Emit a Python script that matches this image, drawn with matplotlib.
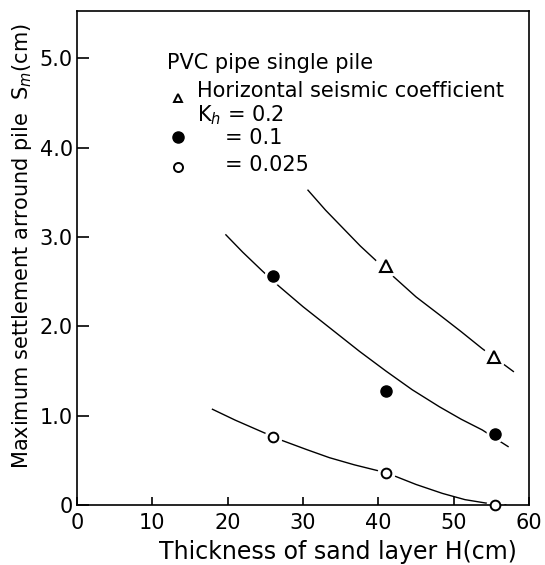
import matplotlib
matplotlib.use("Agg")
import matplotlib.pyplot as plt

plt.rcParams['font.family'] = ['DejaVu Sans']
plt.rcParams['mathtext.fontset'] = 'dejavusans'

# ---- data ----
H_pts = [26, 41, 55.5]
kh02_H = [41, 55.3]
kh02_S = [2.67, 1.66]
kh01_S = [2.56, 1.28, 0.80]
kh0025_S = [0.76, 0.36, 0.0]

curve02_H = [30.6, 33.0, 35.3, 37.6, 39.9, 42.1, 45.0, 48.1, 51.0, 53.8, 56.4, 58.0]
curve02_S = [3.53, 3.30, 3.10, 2.90, 2.72, 2.55, 2.33, 2.13, 1.94, 1.75, 1.59, 1.49]
curve01_H = [19.7, 22.0, 24.6, 26.8, 30.0, 33.9, 37.5, 41.0, 44.5, 48.1, 51.0, 53.8, 56.0, 57.3]
curve01_S = [3.03, 2.83, 2.62, 2.45, 2.22, 1.96, 1.72, 1.50, 1.29, 1.10, 0.96, 0.84, 0.72, 0.65]
curve0025_H = [17.9, 21.0, 24.8, 27.3, 30.5, 33.5, 36.8, 39.9, 42.0, 45.0, 48.5, 51.5, 54.4, 57.0]
curve0025_S = [1.075, 0.95, 0.81, 0.72, 0.62, 0.53, 0.45, 0.385, 0.33, 0.23, 0.13, 0.06, 0.02, 0.0]

x_ticks = [0, 10, 20, 30, 40, 50, 60]
y_ticks = [0, 1.0, 2.0, 3.0, 4.0, 5.0]
y_tick_labels = ['0', '1.0', '2.0', '3.0', '4.0', '5.0']

W, Hh = 545, 565
fig = plt.figure(figsize=(W / 100, Hh / 100), dpi=100)
L, R, B, T = 77, 529, 505, 11
ax = fig.add_axes([L / W, 1 - B / Hh, (R - L) / W, (B - T) / Hh])
ax.set_xlim(0, 60)
ax.set_ylim(0, 5.53)


def afrac(px, py):
    return ((px - L) / (R - L), (B - py) / (B - T))


lw_curve = 1.0
for hx, sy in [(curve02_H, curve02_S), (curve01_H, curve01_S), (curve0025_H, curve0025_S)]:
    ax.plot(hx, sy, color='black', lw=lw_curve, zorder=2, solid_capstyle='butt')

# white halos to break curves near markers
ax.plot(kh02_H, kh02_S, ls='none', marker='o', ms=16, mfc='white', mec='white', zorder=2.1)
ax.plot(H_pts, kh01_S, ls='none', marker='o', ms=12, mfc='white', mec='white', zorder=2.1)
ax.plot(H_pts, kh0025_S, ls='none', marker='o', ms=12, mfc='white', mec='white', zorder=2.1)

ax.plot(kh02_H, kh02_S, ls='none', marker='^', ms=8, mfc='white', mec='black', mew=1.5, zorder=3,
        clip_on=False)
ax.plot(H_pts, kh01_S, ls='none', marker='o', ms=8, mfc='black', mec='black', zorder=3, clip_on=False)
ax.plot(H_pts, kh0025_S, ls='none', marker='o', ms=7, mfc='white', mec='black', mew=1.4, zorder=3,
        clip_on=False)

for s in ax.spines.values():
    s.set_linewidth(1.2)
    s.set_zorder(2.5)

ax.set_xticks(x_ticks)
ax.set_xticklabels([str(v) for v in x_ticks])
ax.set_yticks(y_ticks)
ax.set_yticklabels(y_tick_labels)
ax.tick_params(axis='x', direction='in', length=6, width=1.2, pad=6, labelsize=15)
ax.tick_params(axis='y', direction='in', length=8.5, width=1.2, pad=3, labelsize=15)

fs = 15
ax.text(*afrac(167, 63), 'PVC pipe single pile', transform=ax.transAxes, ha='left', va='center',
        fontsize=fs)
ax.text(*afrac(197, 91), 'Horizontal seismic coefficient', transform=ax.transAxes, ha='left',
        va='center', fontsize=fs)
ax.text(*afrac(197, 115), r'K$_h$ = 0.2', transform=ax.transAxes, ha='left', va='center', fontsize=fs)
ax.text(*afrac(225, 138), '= 0.1', transform=ax.transAxes, ha='left', va='center', fontsize=fs)
ax.text(*afrac(225, 165), '= 0.025', transform=ax.transAxes, ha='left', va='center', fontsize=fs)
ax.plot(*afrac(178, 98), transform=ax.transAxes, marker='^', ms=6, mfc='white', mec='black', mew=1.4)
ax.plot(*afrac(178, 137), transform=ax.transAxes, marker='o', ms=8, mfc='black', mec='black')
ax.plot(*afrac(178, 167), transform=ax.transAxes, marker='o', ms=6.5, mfc='white', mec='black', mew=1.4)

fig.text(338 / W, 1 - 552 / Hh, 'Thickness of sand layer H(cm)', ha='center', va='center', fontsize=17)
fig.text(22 / W, 1 - 246 / Hh, r'Maximum settlement arround pile  S$_m$(cm)', ha='center', va='center',
         rotation=90, fontsize=15)

fig.savefig('out.png', dpi=100)
